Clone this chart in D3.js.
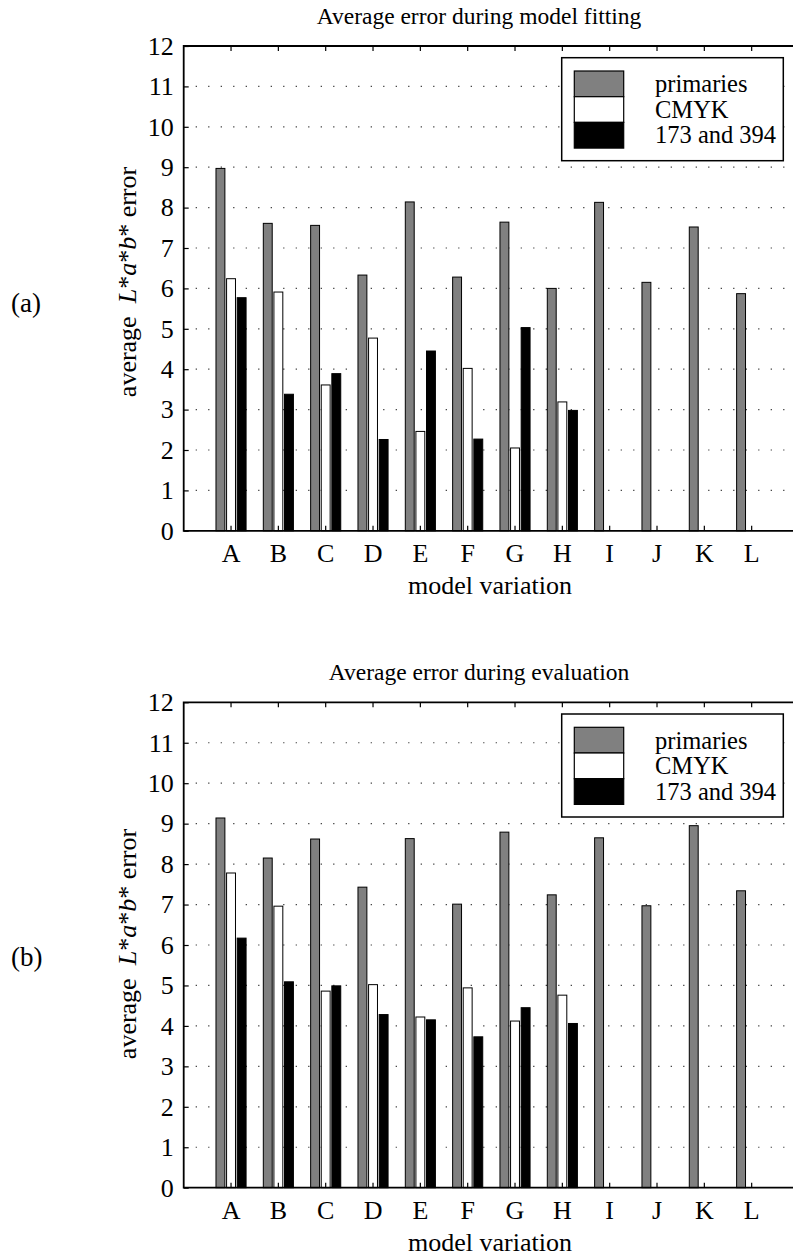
<!DOCTYPE html>
<html>
<head>
<meta charset="utf-8">
<script src="https://cdn.jsdelivr.net/npm/d3@7"></script>
<style>
  body { margin: 0; background: #fff; }
  svg { display: block; font-family: "Liberation Serif", "Times New Roman", serif; }
</style>
</head>
<body>
<svg id="chart" width="793" height="1258"></svg>
<script>
// model variations on the x axis
var categories = ['A','B','C','D','E','F','G','H','I','J','K','L'];
var seriesNames = ['primaries', 'CMYK', '173 and 394'];
var yTicks = [0,1,2,3,4,5,6,7,8,9,10,11,12];

// (a) fitting
var fitPrimaries = [8.97, 7.61, 7.56, 6.33, 8.14, 6.28, 7.64, 6.00, 8.13, 6.15, 7.52, 5.87];
var fitCMYK      = [6.24, 5.91, 3.61, 4.77, 2.46, 4.02, 2.05, 3.19, null, null, null, null];
var fit173394    = [5.77, 3.38, 3.89, 2.26, 4.45, 2.27, 5.03, 2.98, null, null, null, null];

// (b) evaluation
var evalPrimaries = [9.14, 8.15, 8.62, 7.43, 8.63, 7.01, 8.79, 7.24, 8.65, 6.97, 8.95, 7.34];
var evalCMYK      = [7.78, 6.96, 4.86, 5.02, 4.22, 4.94, 4.12, 4.76, null, null, null, null];
var eval173394    = [6.17, 5.09, 4.99, 4.28, 4.15, 3.73, 4.45, 4.06, null, null, null, null];

var fills = ['#808080', '#ffffff', '#000000'];
var serif = '"Liberation Serif", "Times New Roman", serif';

var svg = d3.select('#chart');

function drawPanel(opts) {
  var top = opts.top, bottom = opts.bottom;
  var left = 183.7, right = 799;

  var x = d3.scaleLinear().domain([0, 13]).range([left, right]);
  var x0 = d3.scaleBand().domain(categories).range([x(0.5), x(12.5)]).paddingInner(0);
  var x1 = d3.scaleBand().domain(seriesNames).range([-15.05, 15.05]).paddingInner(0.16);
  var y = d3.scaleLinear().domain([0, 12]).range([bottom, top]);

  var g = svg.append('g');

  // dotted grid
  g.selectAll('.grid').data(yTicks.slice(1, -1)).enter().append('line')
    .attr('x1', left + 12).attr('x2', 793)
    .attr('y1', function(d){ return y(d); }).attr('y2', function(d){ return y(d); })
    .attr('stroke', '#333').attr('stroke-width', 1.2)
    .attr('stroke-dasharray', '1.2,11.3');

  // bars
  var rows = categories.map(function(c, i){
    return { cat: c, vals: opts.data.map(function(s){ return s[i]; }) };
  });
  var grp = g.selectAll('.grp').data(rows).enter().append('g')
    .attr('transform', function(d){ return 'translate(' + (x0(d.cat) + x0.bandwidth()/2) + ',0)'; });
  grp.selectAll('rect')
    .data(function(d){ return d.vals.map(function(v, j){ return {v: v, s: seriesNames[j], j: j}; }).filter(function(e){ return e.v != null; }); })
    .enter().append('rect')
    .attr('x', function(d){ return x1(d.s); })
    .attr('width', x1.bandwidth())
    .attr('y', function(d){ return y(d.v); })
    .attr('height', function(d){ return y(0) - y(d.v); })
    .attr('fill', function(d){ return fills[d.j]; })
    .attr('stroke', '#000').attr('stroke-width', 1);

  // axes (ticks inside, MATLAB style)
  var yAxis = d3.axisLeft(y).tickValues(yTicks).tickSize(-5).tickPadding(10).tickFormat(d3.format('d'));
  var ya = g.append('g').attr('transform', 'translate(' + left + ',0)').call(yAxis)
    .attr('font-family', serif).attr('font-size', 26);
  ya.select('.domain').remove();
  ya.selectAll('text').attr('fill', '#000');

  var xBottom = d3.axisBottom(x0).tickSize(-5).tickPadding(13);
  var xb = g.append('g').attr('transform', 'translate(0,' + bottom + ')').call(xBottom)
    .attr('font-family', serif).attr('font-size', 26);
  xb.select('.domain').remove();
  xb.selectAll('text').attr('fill', '#000');

  var xTop = d3.axisTop(x0).tickSize(-5).tickFormat('');
  var xt = g.append('g').attr('transform', 'translate(0,' + top + ')').call(xTop);
  xt.select('.domain').remove();
  g.selectAll('.tick line').attr('stroke', '#000').attr('stroke-width', 1.2);

  // frame (right side runs off the page)
  g.append('path')
    .attr('d', 'M793,' + top + 'H' + left + 'V' + bottom + 'H793')
    .attr('fill', 'none').attr('stroke', '#000').attr('stroke-width', 1.8);

  // title
  g.append('text').attr('x', 479).attr('y', top - 22)
    .attr('text-anchor', 'middle').attr('font-size', 23.5).text(opts.title);

  // x label
  g.append('text').attr('x', 490).attr('y', bottom + 63)
    .attr('text-anchor', 'middle').attr('font-size', 26).text('model variation');

  // y label
  var yl = g.append('text')
    .attr('transform', 'translate(136,' + opts.labelY + ') rotate(-90)')
    .attr('text-anchor', 'middle').attr('font-size', 26)
    .attr('xml:space', 'preserve');
  yl.append('tspan').text('average  ');
  yl.append('tspan').attr('font-style', 'italic').text('L');
  yl.append('tspan').text('*');
  yl.append('tspan').attr('font-style', 'italic').text('a');
  yl.append('tspan').text('*');
  yl.append('tspan').attr('font-style', 'italic').text('b');
  yl.append('tspan').text('* error');

  // panel tag
  g.append('text').attr('x', 11).attr('y', opts.tagY)
    .attr('font-size', 27).text(opts.tag);

  // legend
  var lx = 561.7, ly = top + 11.7;
  var lg = g.append('g');
  lg.append('rect').attr('x', lx).attr('y', ly).attr('width', 221.6).attr('height', 103)
    .attr('fill', '#fff').attr('stroke', '#000').attr('stroke-width', 1.5);
  seriesNames.forEach(function(s, j){
    lg.append('rect').attr('x', lx + 12.6).attr('y', ly + 13.3 + j * 25.7)
      .attr('width', 49.4).attr('height', 25.7)
      .attr('fill', fills[j]).attr('stroke', '#000').attr('stroke-width', 1.2);
    lg.append('text').attr('x', lx + 93.3).attr('y', ly + 34.6 + j * 25.5)
      .attr('font-size', 24.5).text(s);
  });
}

drawPanel({
  top: 46, bottom: 530.8,
  title: 'Average error during model fitting',
  data: [fitPrimaries, fitCMYK, fit173394],
  tag: '(a)', tagY: 312, labelY: 282
});

drawPanel({
  top: 702.3, bottom: 1187.7,
  title: 'Average error during evaluation',
  data: [evalPrimaries, evalCMYK, eval173394],
  tag: '(b)', tagY: 966, labelY: 944
});
</script>
</body>
</html>
